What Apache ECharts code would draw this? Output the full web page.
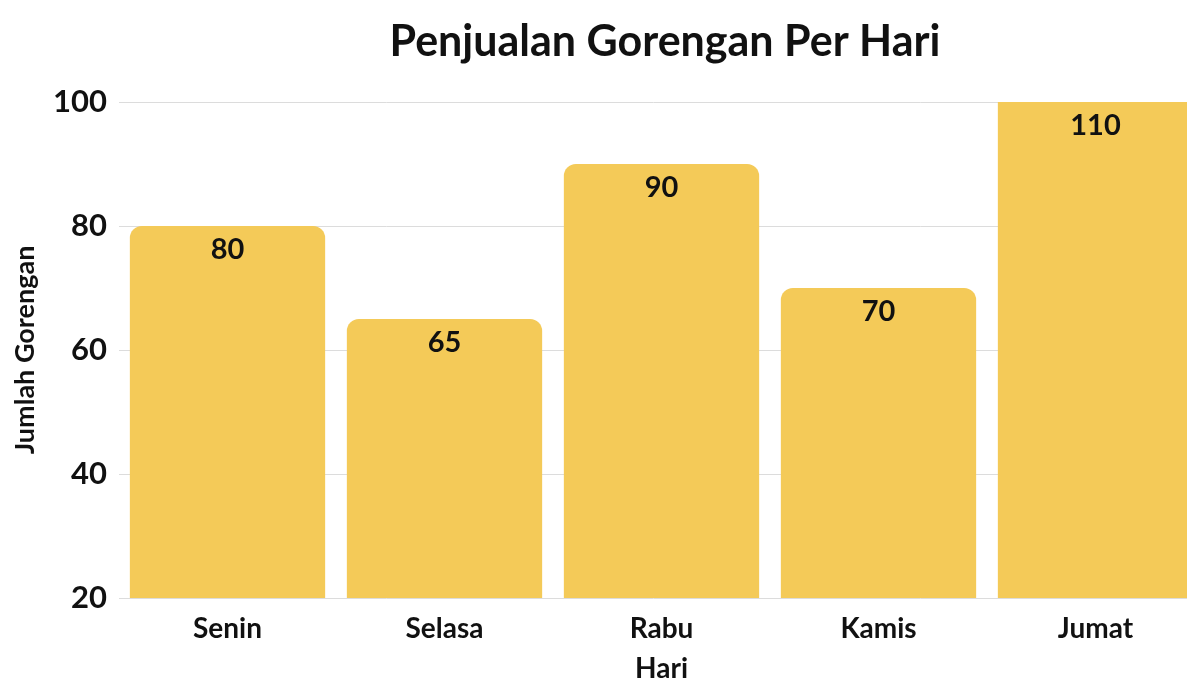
<!DOCTYPE html>
<html>
<head>
<meta charset="utf-8">
<script src="https://cdn.jsdelivr.net/npm/echarts@6/dist/echarts.min.js"></script>
<style>
  html, body { margin: 0; padding: 0; background: #fff; }
  #chart { width: 1187px; height: 681px; }
</style>
</head>
<body>
<div id="chart"></div>
<script>
const days = ['Senin', 'Selasa', 'Rabu', 'Kamis', 'Jumat'];
const sales = [80, 65, 90, 70, 110];
const yTicks = [20, 40, 60, 80, 100];

const yMin = yTicks[0], yMax = yTicks[yTicks.length - 1];
const font = 'Lato, "Open Sans", sans-serif';

const chart = echarts.init(document.getElementById('chart'));
chart.setOption({
    backgroundColor: '#ffffff',
    title: {
        text: 'Penjualan Gorengan Per Hari', left: 660, top: 16, textAlign: 'center',
        textStyle: { fontFamily: font, fontWeight: 'bold', fontSize: 43, color: '#111' }
    },
    grid: { left: 119, top: 102, width: 1085, bottom: 83, outerBoundsMode: 'none', containLabel: false },
    xAxis: {
        type: 'category', data: days,
        name: 'Hari', nameLocation: 'middle', nameGap: 57,
        nameTextStyle: { fontFamily: font, fontWeight: 'bold', fontSize: 28, color: '#111' },
        axisLine: { show: false }, axisTick: { show: false },
        axisLabel: { margin: 17, fontFamily: font, fontWeight: 'bold', fontSize: 28, color: '#111' }
    },
    yAxis: {
        type: 'value', min: yMin, max: yMax, interval: 20,
        name: 'Jumlah Gorengan', nameLocation: 'middle', nameGap: 80,
        nameTextStyle: { fontFamily: font, fontWeight: 'bold', fontSize: 27, color: '#111' },
        axisLine: { show: false }, axisTick: { show: false },
        splitLine: { lineStyle: { color: '#dcdcdc', width: 1 } },
        axisLabel: { margin: 12, fontFamily: font, fontWeight: 'bold', fontSize: 31, color: '#111' }
    },
    series: [{
        type: 'bar', barCategoryGap: '10%', clip: true,
        data: sales.map(v => ({
            value: v,
            itemStyle: { borderRadius: v > yMax ? 0 : [12, 12, 0, 0] }
        })),
        itemStyle: { color: '#F4CA58' },
        label: {
            show: true, position: 'insideTop', distance: 9,
            fontFamily: font, fontWeight: 'bold', fontSize: 29, color: '#111'
        }
    }]
});
</script>
</body>
</html>
